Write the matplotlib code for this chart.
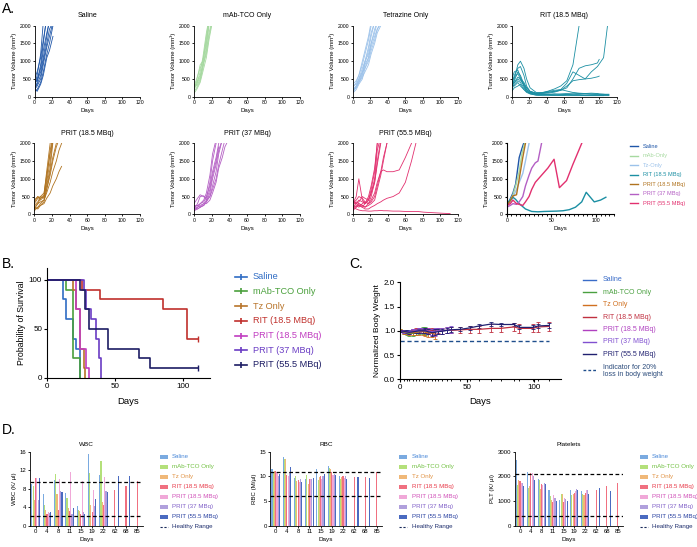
import numpy as np
import matplotlib
matplotlib.use('Agg')
import matplotlib.pyplot as plt
from matplotlib.lines import Line2D
from matplotlib.patches import Rectangle

plt.rcParams['font.family'] = ['Liberation Sans', 'DejaVu Sans']

W, H = 697, 547

# ---------------- A. tumour volume per mouse ----------------
saline_days = [0, 3, 7, 10, 14, 17, 21]
saline_vols = [[300, 600, 1200, 2100],
               [200, 400, 900, 1500, 2300],
               [500, 700, 1100, 1600, 2200],
               [250, 350, 600, 1000, 1500, 1900, 2100],
               [150, 200, 400, 700, 1200, 1500, 2000],
               [350, 500, 800, 1300, 1800, 2100],
               [200, 300, 500, 900, 1400, 1700, 2100],
               [400, 450, 700, 1100, 1700, 2200],
               [250, 150, 350, 600, 1100, 1300, 1700]]

mab_days = [0, 3, 7, 10, 14, 17, 20]
mab_vols = [[200, 350, 700, 1100, 1800, 2200],
            [300, 500, 800, 1000, 1500, 2100],
            [150, 250, 450, 800, 1300, 1800, 2100],
            [250, 400, 600, 900, 1200, 1700, 2050],
            [350, 300, 500, 850, 1400, 2000],
            [100, 200, 400, 700, 1100, 1600, 2000],
            [200, 450, 900, 1000, 1600, 2100],
            [300, 350, 550, 950, 1700, 2200]]

tz_days = [0, 4, 7, 11, 14, 18, 21, 25, 28, 32]
tz_vols = [[100, 300, 500, 800, 1000, 1200, 1500, 1800, 2100],
           [200, 250, 400, 600, 900, 1100, 1400, 1700, 1900, 2100],
           [150, 300, 450, 700, 1000, 1400, 1800, 2100],
           [250, 400, 600, 900, 1200, 1600, 2000],
           [300, 350, 500, 700, 800, 1000, 1300, 1600, 1900, 2050],
           [100, 200, 350, 500, 800, 1100, 1500, 1900, 2100],
           [200, 300, 400, 650, 950, 1300, 1700, 2100],
           [350, 450, 600, 1000, 1300, 1700, 2100],
           [150, 250, 400, 550, 700, 900, 1200, 1500, 1800, 2000]]

rit_days = [0, 3, 7, 10, 14, 17, 21, 28, 35, 42, 49, 56, 63, 70, 77, 84, 91, 98, 100, 105, 111]
rit_vols = [[300, 450, 700, 600, 350, 200, 120, 90, 110, 160, 220, 300, 450, 900, 2000],
            [250, 500, 900, 1000, 800, 500, 250, 120, 100, 120, 150, 200, 380, 700, 600, 500, 520, 560, 580],
            [350, 600, 800, 850, 600, 300, 150, 100, 110, 130, 150, 180, 250, 500, 800, 870, 900, 950, 1050],
            [300, 400, 550, 500, 400, 250, 150, 80, 90, 100, 130, 180, 300, 450, 480, 500, 700, 850, 920, 1100, 2300],
            [400, 550, 650, 500, 300, 150, 80, 50, 50, 60, 70, 80, 90, 100, 90, 80, 70, 60, 60, 60, 60],
            [200, 350, 450, 400, 250, 150, 100, 60, 60, 70, 80, 60, 60, 70, 80, 90, 100, 90, 80, 70, 50],
            [500, 700, 750, 550, 300, 200, 120, 80, 70, 60, 50, 50, 60, 70, 60, 50, 50, 50, 40, 40, 40],
            [150, 250, 300, 350, 200, 120, 80, 40, 30, 30, 40, 40, 30, 30, 30, 30, 30, 30, 30, 30, 30],
            [300, 400, 500, 450, 350, 250, 150, 100, 120, 150, 180, 200, 160, 120, 100, 90, 80, 80, 70, 70, 70],
            [350, 300, 400, 300, 200, 150, 100, 70, 60, 50, 40, 40, 50, 40, 40, 30, 30, 30, 30, 30]]

p185_days = [0, 4, 7, 11, 14, 18, 21, 25, 28, 31]
p185_vols = [[150, 300, 450, 500, 800, 1300, 2000],
             [250, 350, 500, 450, 900, 1500, 2100],
             [400, 500, 400, 500, 1000, 1800, 2200],
             [200, 150, 250, 350, 700, 1200, 1600, 2000],
             [300, 450, 500, 600, 1100, 1700, 2100],
             [100, 200, 300, 400, 600, 900, 1200, 1500, 1800, 2000],
             [150, 200, 250, 300, 450, 600, 800, 1000, 1200, 1350],
             [350, 500, 450, 550, 1200, 2000],
             [200, 300, 350, 400, 700, 1100, 1500, 1900, 2100]]

p37_days = [0, 4, 7, 11, 14, 18, 21, 25, 28, 32, 35, 39]
p37_vols = [[150, 300, 500, 520, 450, 900, 1500, 2000],
            [200, 250, 300, 350, 500, 800, 1200, 1600, 2000],
            [100, 150, 200, 250, 350, 600, 1000, 1400, 1800, 2100],
            [250, 250, 200, 300, 400, 700, 1100, 1500, 1900],
            [300, 450, 550, 500, 400, 500, 800, 1200, 1700, 2100],
            [150, 200, 250, 300, 300, 400, 600, 900, 1300, 1600, 1900, 2100],
            [200, 150, 200, 250, 350, 500, 700, 1000, 1400, 1800, 2100],
            [100, 200, 300, 400, 600, 1100, 1700, 2100]]

p555_days = [0, 4, 7, 11, 14, 18, 21, 25, 28, 32, 35, 39, 46, 53, 60, 67, 74, 81, 88, 95, 102, 111]
p555_vols = [[300, 500, 1000, 400, 300, 400, 600, 900, 1400, 2000],
             [200, 300, 400, 350, 300, 500, 800, 1300, 2000],
             [400, 300, 350, 500, 450, 400, 600, 1000, 1800, 2200],
             [250, 200, 300, 250, 200, 300, 350, 500, 800, 1200, 1600, 2000],
             [150, 250, 200, 300, 350, 300, 400, 600, 900, 1200, 1250, 1200, 1200, 1250, 1600, 2000],
             [350, 300, 250, 200, 150, 150, 200, 250, 300, 350, 400, 450, 500, 600, 900, 1500, 2200],
             [200, 150, 120, 100, 100, 90, 90, 100, 100, 110, 100, 100, 90, 90, 80, 80, 80, 60, 50, 40, 30, 20],
             [300, 400, 500, 450, 350, 300, 500, 900, 1500, 2100],
             [250, 350, 300, 250, 200, 250, 300, 400, 700, 1100, 1500, 2000],
             [100, 200, 250, 200, 300, 400, 700, 1200, 2000]]

# group means for the combined plot
mean_saline_days = [0, 3, 7, 10, 14, 17, 19]
mean_saline = [250, 380, 600, 850, 1600, 1850, 2000]
mean_mab_days = [0, 3, 7, 10, 14, 17, 20]
mean_mab = [250, 350, 550, 800, 1200, 1700, 2000]
mean_tz_days = [0, 4, 7, 11, 14, 18, 21, 25]
mean_tz = [220, 330, 480, 700, 900, 1150, 1500, 2000]
mean_rit_days = [0, 3, 7, 10, 14, 21, 28, 35, 42, 56, 63, 70, 77, 84, 89, 98, 105, 111]
mean_rit = [300, 380, 480, 420, 300, 150, 80, 70, 80, 90, 100, 130, 200, 350, 620, 350, 400, 480]
mean_p185_days = [0, 4, 7, 11, 14, 18, 21]
mean_p185 = [250, 380, 520, 550, 1000, 1600, 2000]
mean_p37_days = [0, 4, 7, 11, 14, 18, 21, 25, 28, 32, 35, 39]
mean_p37 = [200, 250, 300, 280, 350, 500, 800, 1100, 1300, 1450, 1500, 2000]
mean_p555_days = [0, 4, 7, 11, 14, 18, 21, 25, 28, 32, 39, 46, 53, 59, 67, 74, 84]
mean_p555 = [250, 300, 400, 300, 280, 250, 350, 500, 700, 900, 1100, 1300, 1550, 750, 950, 1400, 2000]

a_titles = ['Saline', 'mAb-TCO Only', 'Tetrazine Only', 'RIT (18.5 MBq)',
            'PRIT (18.5 MBq)', 'PRIT (37 MBq)', 'PRIT (55.5 MBq)']
a_colors = ['#1f56a8', '#a6d9a0', '#9cc2ea', '#1b8fa3', '#b0731f', '#b45fc4', '#e2306f']
a_legend = ['Saline', 'mAb-Only', 'Tz-Only', 'RIT (18.5 MBq)',
            'PRIT (18.5 MBq)', 'PRIT (37 MBq)', 'PRIT (55.5 MBq)']

# ---------------- B. survival ----------------
surv_labels = ['Saline', 'mAb-TCO Only', 'Tz Only', 'RIT (18.5 MBq)',
               'PRIT (18.5 MBq)', 'PRIT (37 MBq)', 'PRIT (55.5 MBq)']
surv_colors = ['#2f6cc4', '#4aa03c', '#b8742a', '#c0302c', '#c03cc0', '#6a3cc4', '#1c1c64']
surv_days = [[0, 12, 14, 19, 21, 24],
             [0, 14, 19, 24],
             [0, 19, 21, 24, 27, 28],
             [0, 26, 39, 85, 103, 111],
             [0, 21, 24, 29, 31],
             [0, 27, 29, 32, 36, 38, 39.5],
             [0, 24, 28, 31, 45, 68, 76, 111]]
surv_pct = [[100, 80, 60, 40, 30, 0],
            [100, 90, 20, 0],
            [100, 90, 70, 30, 10, 0],
            [100, 90, 80, 70, 40, 40],
            [100, 70, 30, 10, 0],
            [100, 90, 70, 60, 40, 20, 0],
            [100, 90, 70, 50, 30, 20, 10, 10]]
surv_censored = [False, False, False, True, False, False, True]

# ---------------- C. body weight ----------------
bw_labels = surv_labels
bw_colors = ['#3a6cc8', '#4aa040', '#d07020', '#c03040', '#b040c0', '#8050d0', '#202070']
bw_days = [0, 3, 5, 7, 10, 12, 14, 17, 19, 21, 24, 26, 28, 31, 35, 38,
           45, 52, 59, 68, 75, 85, 89, 99, 103, 111]
bw_mean = [[1.0, 0.99, 0.98, 0.99, 1.0, 1.0, 1.01, 1.0, 0.99, 1.0],
           [1.0, 0.98, 0.96, 0.95, 0.95, 0.97, 0.98, 1.0, 1.0, 0.99],
           [1.0, 0.98, 0.97, 0.96, 0.96, 0.97, 0.98, 0.98, 0.97, 0.96, 0.95, 0.93],
           [1.0, 0.99, 0.98, 0.98, 1.0, 1.01, 1.01, 1.0, 1.0, 1.0, 1.0, 0.99, 1.0, 1.0, 1.01, 1.01,
            1.02, 1.03, 1.03, 1.05, 1.05, 1.08, 1.05, 1.05, 1.08, 1.09],
           [1.0, 0.99, 0.98, 0.98, 0.99, 1.0, 1.0, 1.01, 1.0, 0.99, 0.98, 0.97],
           [1.0, 0.99, 0.98, 0.98, 0.99, 1.0, 1.01, 1.01, 1.0, 0.99, 0.98, 0.99, 1.0, 1.0, 1.01, 1.02],
           [1.0, 0.99, 0.98, 0.97, 0.98, 0.99, 1.0, 1.0, 1.0, 0.98, 0.96, 0.97, 0.98, 0.99, 1.01, 1.02,
            1.03, 1.06, 1.10, 1.14, 1.13, 1.13, 1.07, 1.07, 1.10, 1.11]]
bw_err = [[0.02, 0.03, 0.03, 0.03, 0.04, 0.03, 0.04, 0.04, 0.05, 0.04],
          [0.03, 0.04, 0.05, 0.05, 0.06, 0.06, 0.05, 0.07, 0.08, 0.06],
          [0.03, 0.04, 0.04, 0.05, 0.05, 0.06, 0.06, 0.07, 0.07, 0.08, 0.08, 0.09],
          [0.02, 0.03, 0.03, 0.03, 0.03, 0.04, 0.04, 0.04, 0.04, 0.05, 0.05, 0.05, 0.05, 0.06, 0.06, 0.06,
           0.06, 0.07, 0.07, 0.08, 0.08, 0.09, 0.09, 0.08, 0.11, 0.10],
          [0.02, 0.03, 0.03, 0.04, 0.04, 0.04, 0.05, 0.05, 0.05, 0.06, 0.06, 0.07],
          [0.02, 0.03, 0.03, 0.04, 0.04, 0.04, 0.04, 0.05, 0.05, 0.05, 0.06, 0.06, 0.06, 0.06, 0.06, 0.07],
          [0.02, 0.02, 0.03, 0.03, 0.03, 0.03, 0.04, 0.04, 0.05, 0.05, 0.06, 0.06, 0.05, 0.05, 0.05, 0.05,
           0.04, 0.04, 0.04, 0.05, 0.04, 0.04, 0.04, 0.04, 0.05, 0.05]]
bw_threshold = 0.8

# ---------------- D. blood counts ----------------
cbc_days = ['0', '4', '8', '11', '15', '19', '22', '62', '68', '85']
cbc_labels = surv_labels
bar_colors = ['#7aaae0', '#b4e07a', '#f0b878', '#f07080', '#f0a8d8', '#b0a0dc', '#4a6ac0']
bar_text_colors = ['#4a88d8', '#70c040', '#e09040', '#e83848', '#d050b8', '#8060c8', '#2840a0']
nan = np.nan
wbc = [[9.0, 6.8, 9.8, 7.0, 4.2, 15.5, 11.0, nan, nan, nan],
       [8.6, 4.5, 11.2, 6.0, 3.5, 11.5, 14.0, nan, nan, nan],
       [5.7, 3.5, 6.8, 3.8, 3.2, 4.5, 5.2, nan, nan, nan],
       [10.3, 2.5, 3.5, 3.3, 2.5, 3.0, 4.5, 7.8, 8.6, 9.6],
       [10.3, 3.1, 10.2, 11.6, 9.7, 7.7, 10.5, nan, nan, nan],
       [5.5, 2.9, 7.6, 2.6, 3.0, 4.2, 7.6, nan, nan, nan],
       [10.3, 3.0, 7.4, 3.9, 2.5, 5.8, 7.4, 10.8, 10.8, nan]]
rbc = [[11.5, 14.0, 9.7, 9.5, 11.6, 12.2, 10.0, nan, nan, nan],
       [10.8, 13.5, 10.1, 10.3, 9.3, 11.8, 9.5, nan, nan, nan],
       [11.2, 13.5, 9.0, 8.4, 9.8, 11.5, 9.8, nan, nan, nan],
       [11.2, 10.2, 9.2, 9.4, 10.0, 11.0, 10.0, 9.8, 9.8, 11.0],
       [10.9, 10.0, 8.8, 9.4, 9.4, 10.2, 9.6, nan, nan, nan],
       [10.0, 10.8, 9.4, 9.5, 10.0, 10.5, 10.0, nan, nan, nan],
       [10.5, 12.0, 8.8, 9.7, 10.5, 10.3, 9.5, 9.8, 9.6, nan]]
plt_counts = [[2650, 2200, 1900, 1450, 1050, 1450, 1400, nan, nan, nan],
              [1650, 1550, 1850, 1200, 1300, 1250, 1300, nan, nan, nan],
              [1850, 1600, 1500, 1050, 1300, 1300, 1250, nan, nan, nan],
              [1800, 2150, 1700, 950, 950, 1350, 1350, 1450, 1600, 1750],
              [1750, 2150, 1650, 1250, 1150, 1400, 1450, nan, nan, nan],
              [1750, 2000, 1750, 1150, 1100, 1500, 1450, nan, nan, nan],
              [1600, 1850, 1700, 1000, 1000, 1450, 1300, 1550, 1400, nan]]
wbc_range = [2.1, 9.5]
rbc_range = [6.0, 11.0]
plt_range = [400, 2100]

fig = plt.figure(figsize=(6.97, 5.47), dpi=100)


def px_axes(x0, x1, y0, y1):
    return fig.add_axes([x0 / W, 1 - y1 / H, (x1 - x0) / W, (y1 - y0) / H])


def style(ax, fs, lw=0.6, tl=2.0):
    ax.spines['top'].set_visible(False)
    ax.spines['right'].set_visible(False)
    ax.spines['left'].set_linewidth(lw)
    ax.spines['bottom'].set_linewidth(lw)
    ax.tick_params(labelsize=fs, width=lw, length=tl, pad=1)
    ax.tick_params(which='minor', width=lw * 0.8, length=tl * 0.6)


def fy(y):
    return 1 - y / H


def line_legend(x0, x1, xt, ytop, dy, labels, colors, fs, lw=1.0, tick=False, tcolors=None):
    for i, lab in enumerate(labels):
        y = fy(ytop + i * dy)
        c = colors[i]
        fig.add_artist(Line2D([x0 / W, x1 / W], [y, y], color=c, lw=lw, transform=fig.transFigure))
        if tick:
            fig.add_artist(Line2D([(x0 + x1) / 2 / W], [y], color=c, marker='|', ms=4, mew=lw,
                                  transform=fig.transFigure))
        fig.text(xt / W, y, lab, fontsize=fs, va='center', color=(tcolors or colors)[i])


# ---- A ----
a_rects = [(34.5, 140, 25.7, 96.7), (194, 300, 25.7, 96.7), (352.7, 458, 25.7, 96.7), (511.7, 616.7, 25.7, 96.7),
           (34.3, 140, 143.3, 214.3), (194, 300, 143.3, 214.3), (352.7, 458, 143.3, 214.3)]
a_data = [(saline_days, saline_vols), (mab_days, mab_vols), (tz_days, tz_vols), (rit_days, rit_vols),
          (p185_days, p185_vols), (p37_days, p37_vols), (p555_days, p555_vols)]
for k, rect in enumerate(a_rects):
    ax = px_axes(*rect)
    days, vols = a_data[k]
    for v in vols:
        ax.plot(days[:len(v)], v, color=a_colors[k], lw=0.6)
    ax.set_xlim(0, 120)
    ax.set_ylim(0, 2000)
    ax.set_xticks(range(0, 121, 20))
    ax.set_yticks([0, 500, 1000, 1500, 2000])
    style(ax, 3.7, lw=0.6, tl=1.5)
    ax.set_title(a_titles[k], fontsize=5, pad=6)
    ax.set_xlabel('Days', fontsize=4.3, labelpad=2)
    ax.set_ylabel('Tumor Volume (mm³)', fontsize=4.3, labelpad=2)

ax = px_axes(506.7, 613.9, 143.3, 214.3)
means = [(mean_saline_days, mean_saline), (mean_mab_days, mean_mab), (mean_tz_days, mean_tz),
         (mean_rit_days, mean_rit), (mean_p185_days, mean_p185), (mean_p37_days, mean_p37),
         (mean_p555_days, mean_p555)]
for k, (d, v) in enumerate(means):
    ax.plot(d, v, color=a_colors[k], lw=1.0)
ax.set_xlim(0, 120)
ax.set_ylim(0, 2000)
ax.set_xticks([0, 50, 100])
ax.set_xticks(range(0, 121, 5), minor=True)
ax.set_yticks([0, 500, 1000, 1500, 2000])
style(ax, 3.7, lw=0.8, tl=1.8)
ax.set_xlabel('Days', fontsize=4.3, labelpad=2)
ax.set_ylabel('Tumor Volume (mm³)', fontsize=4.3, labelpad=2)
line_legend(630, 637.5, 642.7, 146, 9.55, a_legend, a_colors, 4.1, lw=1.0)

# ---- B ----
ax = px_axes(47, 210.2, 268, 378)
for k in range(len(surv_labels)):
    ax.step(surv_days[k], surv_pct[k], where='post', color=surv_colors[k], lw=1.2)
    if surv_censored[k]:
        ax.plot(surv_days[k][-1], surv_pct[k][-1], marker='|', ms=4, mew=1.0, color=surv_colors[k])
ax.set_xlim(0, 120)
ax.set_ylim(0, 112)
ax.set_xticks([0, 50, 100])
ax.set_yticks([0, 50, 100])
style(ax, 5.8, lw=0.8, tl=2.5)
ax.set_xlabel('Days', fontsize=6.8, labelpad=5)
ax.set_ylabel('Probability of Survival', fontsize=6.3, labelpad=2)
line_legend(235, 247, 253, 276.7, 14.7, surv_labels, surv_colors, 6.6, lw=1.2, tick=True)

# ---- C ----
ax = px_axes(400, 561, 282.3, 379.3)
for k in range(len(bw_labels)):
    n = len(bw_mean[k])
    ax.errorbar(bw_days[:n], bw_mean[k], yerr=bw_err[k], color=bw_colors[k], lw=0.9,
                elinewidth=0.6, capsize=1.2, capthick=0.6)
ax.plot([bw_days[0], bw_days[-1]], [bw_threshold, bw_threshold], ls=(0, (3, 2)), color='#1f4e8c', lw=1.0)
ax.set_xlim(0, 120)
ax.set_ylim(0, 2.0)
ax.set_xticks([0, 50, 100])
ax.set_xticks(bw_days, minor=True)
ax.set_yticks([0, 0.5, 1.0, 1.5, 2.0])
ax.set_yticklabels(['0.0', '0.5', '1.0', '1.5', '2.0'])
style(ax, 5.8, lw=0.8, tl=2.5)
ax.set_xlabel('Days', fontsize=6.8, labelpad=4)
ax.set_ylabel('Normalized Body Weight', fontsize=6.0, labelpad=2)
line_legend(583, 596, 603, 279.9, 12.4, bw_labels, bw_colors, 5.0, lw=1.0)
yi = fy(370)
fig.add_artist(Line2D([583 / W, 596 / W], [yi, yi], color='#1f4e8c', lw=1.0, ls=(0, (2, 1.5)),
                      transform=fig.transFigure))
fig.text(603 / W, fy(371), 'Indicator for 20%\nloss in body weight', fontsize=5.0, va='center',
         color='#2a4a7a', linespacing=1.15)

# ---- D ----
d_panels = [('WBC', 'WBC (K/ µl)', wbc, wbc_range, (30, 143), [0, 4, 8, 12, 16], 16, 160, 168.3, 171.7),
            ('RBC', 'RBC (M/µl)', rbc, rbc_range, (270.1, 382.3), [0, 5, 10, 15], 15, 399, 406.7, 411.7),
            ('Platelets', 'PLT (K/ µl)', plt_counts, plt_range, (514.6, 623.2), [0, 1000, 2000, 3000], 3000,
             640, 648.3, 651.7)]
x = np.arange(len(cbc_days))
bw_bar = 0.1
for title, ylab, vals, rng, (x0, x1), yt, ymax, lx0, lx1, ltx in d_panels:
    ax = px_axes(x0, x1, 451.7, 526)
    for k in range(len(cbc_labels)):
        ax.bar(x + (k - 3) * 0.11, vals[k], width=bw_bar, color=bar_colors[k], lw=0)
    for r in rng:
        ax.axhline(r, color='black', ls=(0, (3, 2)), lw=0.9)
    ax.set_xlim(-0.5, 9.5)
    ax.set_ylim(0, ymax)
    ax.set_xticks(x)
    ax.set_xticklabels(cbc_days)
    ax.set_yticks(yt)
    style(ax, 4.3, lw=0.6, tl=1.5)
    ax.set_title(title, fontsize=4.6, pad=4)
    ax.set_xlabel('Days', fontsize=4.6, labelpad=2)
    ax.set_ylabel(ylab, fontsize=4.4, labelpad=2)
    for k, lab in enumerate(cbc_labels):
        y = 456.7 + k * 10
        fig.add_artist(Rectangle((lx0 / W, fy(y + 2)), (lx1 - lx0) / W, 4 / H, color=bar_colors[k],
                                 lw=0, transform=fig.transFigure))
        fig.text(ltx / W, fy(y), lab, fontsize=4.4, va='center', color=bar_text_colors[k])
    y = fy(526.7)
    fig.add_artist(Line2D([lx0 / W, lx1 / W], [y, y], color='#1a2a5a', lw=0.8, ls=(0, (2, 1.5)),
                          transform=fig.transFigure))
    fig.text(ltx / W, y, 'Healthy Range', fontsize=4.4, va='center', color='#1a2a6a')

# panel letters
fig.text(2 / W, fy(9), 'A.', fontsize=10, va='center')
fig.text(2 / W, fy(264), 'B.', fontsize=10, va='center')
fig.text(349 / W, fy(264), 'C.', fontsize=10, va='center')
fig.text(2 / W, fy(430), 'D.', fontsize=10, va='center')

fig.savefig('out.png', dpi=100)
